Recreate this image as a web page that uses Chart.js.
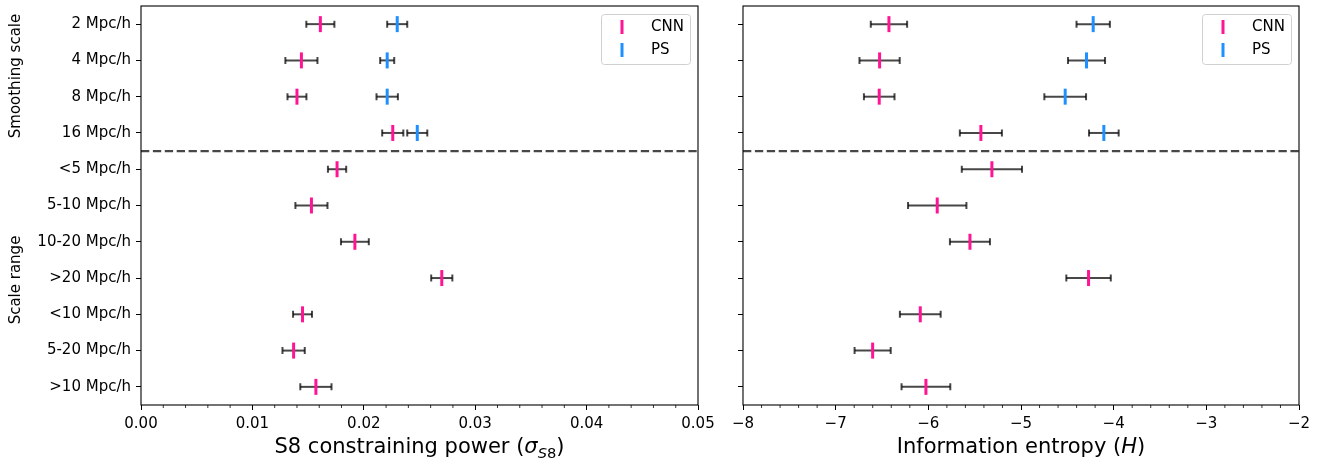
<!DOCTYPE html>
<html><head><meta charset="utf-8">
<script src="https://cdn.jsdelivr.net/npm/chart.js@4.4.1/dist/chart.umd.min.js"></script>
<style>
html,body{margin:0;padding:0;background:#fff;}
#wrap{position:relative;width:1333px;height:464px;overflow:hidden;background:#fff;}
canvas{position:absolute;top:0;}
</style></head><body>
<div id="wrap">
<canvas id="c1" width="720" height="464" style="left:0px"></canvas>
<canvas id="c2" width="613" height="464" style="left:720px"></canvas>
</div>
<script>
// ---------------- data ----------------
const categories = ['2 Mpc/h','4 Mpc/h','8 Mpc/h','16 Mpc/h','<5 Mpc/h','5-10 Mpc/h','10-20 Mpc/h','>20 Mpc/h','<10 Mpc/h','5-20 Mpc/h','>10 Mpc/h'];
const groupLabels = ['Smoothing scale','Scale range'];
const seriesNames = ['CNN','PS'];

const cnnS8    = [0.0161, 0.0144, 0.0140, 0.0226, 0.0176, 0.0153, 0.0192, 0.0270, 0.0145, 0.0137, 0.0157];
const cnnS8Err = [0.00126,0.00144,0.00085,0.00095,0.00082,0.00144,0.00125,0.00095,0.00085,0.00100,0.00140];
const psS8     = [0.0230, 0.0221, 0.0221, 0.0248];
const psS8Err  = [0.00090,0.00063,0.00096,0.00090];

const cnnH    = [-6.425,-6.526,-6.530,-5.433,-5.314,-5.904,-5.551,-4.271,-6.087,-6.601,-6.026];
const cnnHErr = [0.196, 0.217, 0.165, 0.227, 0.325, 0.315, 0.216, 0.240, 0.220, 0.195, 0.263];
const psH     = [-4.221,-4.293,-4.523,-4.106];
const psHErr  = [0.180, 0.200, 0.225, 0.160];

const s8Ticks = [0, 0.01, 0.02, 0.03, 0.04, 0.05];
const s8TickLabels = ['0.00','0.01','0.02','0.03','0.04','0.05'];
const hTicks = [-8,-7,-6,-5,-4,-3,-2];
const hTickLabels = ['\u22128','\u22127','\u22126','\u22125','\u22124','\u22123','\u22122'];
const dividerAt = 3.5;

// ---------------- style ----------------
const FONT = 'DejaVu Sans';
const PINK = '#ff1493';
const BLUE = '#1e90ff';
const ERRC = 'rgba(0,0,0,0.72)';

function drawRich(ctx, parts, cx, baseline) {
  let w = 0;
  parts.forEach(p => { ctx.font = p.f; p.w = ctx.measureText(p.t).width; w += p.w; });
  let x = cx - w / 2;
  ctx.textAlign = 'left'; ctx.textBaseline = 'alphabetic'; ctx.fillStyle = '#000';
  parts.forEach(p => { ctx.font = p.f; ctx.fillText(p.t, x, baseline + (p.dy || 0)); x += p.w; });
}

const decor = {
  id: 'decor',
  beforeDatasetsDraw(chart, args, o) {
    const ctx = chart.ctx, xs = chart.scales.x, ys = chart.scales.y, a = chart.chartArea;
    ctx.save();
    // dashed divider
    ctx.strokeStyle = 'rgba(0,0,0,0.72)'; ctx.lineWidth = 2.2; ctx.setLineDash([8.3, 3.6]);
    const yd = ys.getPixelForValue(dividerAt);
    ctx.beginPath(); ctx.moveTo(a.left, yd); ctx.lineTo(a.right, yd); ctx.stroke();
    ctx.setLineDash([]);
    // error bars
    chart.data.datasets.forEach(ds => {
      ds.data.forEach((p, i) => {
        const e = ds.err[i];
        const x0 = xs.getPixelForValue(p.x - e), x1 = xs.getPixelForValue(p.x + e), y = ys.getPixelForValue(p.y);
        ctx.strokeStyle = ERRC; ctx.lineWidth = 2;
        ctx.beginPath(); ctx.moveTo(x0, y); ctx.lineTo(x1, y); ctx.stroke();
        ctx.beginPath();
        ctx.moveTo(x0, y - 3.5); ctx.lineTo(x0, y + 3.5);
        ctx.moveTo(x1, y - 3.5); ctx.lineTo(x1, y + 3.5);
        ctx.stroke();
      });
    });
    ctx.restore();
  },
  afterDraw(chart, args, o) {
    const ctx = chart.ctx, xs = chart.scales.x, a = chart.chartArea;
    ctx.save();
    // frame
    ctx.strokeStyle = '#000'; ctx.lineWidth = 1.1;
    ctx.strokeRect(a.left, a.top, a.right - a.left, a.bottom - a.top);
    // minor ticks
    ctx.lineWidth = 0.8;
    const n = Math.round((o.xmax - o.xmin) / o.minor);
    ctx.beginPath();
    for (let i = 0; i <= n; i++) {
      if (i % 5 === 0) continue;
      const px = xs.getPixelForValue(o.xmin + i * o.minor);
      ctx.moveTo(px, a.bottom); ctx.lineTo(px, a.bottom + 3);
    }
    ctx.stroke();
    // legend
    const bw = 89, bh = 50, bx = a.right - 8 - bw, by = a.top + 8;
    ctx.fillStyle = 'rgba(255,255,255,0.8)'; ctx.strokeStyle = '#d0d0d0'; ctx.lineWidth = 1;
    ctx.beginPath();
    if (ctx.roundRect) ctx.roundRect(bx + 0.5, by + 0.5, bw, bh, 3); else ctx.rect(bx + 0.5, by + 0.5, bw, bh);
    ctx.fill(); ctx.stroke();
    const cols = [PINK, BLUE];
    seriesNames.forEach((nm, k) => {
      const cy = by + 13 + k * 23;
      ctx.strokeStyle = cols[k]; ctx.lineWidth = 3;
      ctx.beginPath(); ctx.moveTo(bx + 21, cy - 7); ctx.lineTo(bx + 21, cy + 7); ctx.stroke();
      ctx.fillStyle = '#000'; ctx.font = '15px ' + FONT; ctx.textAlign = 'left'; ctx.textBaseline = 'middle';
      ctx.fillText(nm, bx + 50, cy);
    });
    // axis title
    drawRich(ctx, o.title, (a.left + a.right) / 2, 453);
    // group labels
    if (o.groups) {
      ctx.fillStyle = '#000'; ctx.font = '15px ' + FONT; ctx.textAlign = 'center'; ctx.textBaseline = 'alphabetic';
      o.groups.forEach(g => {
        ctx.save(); ctx.translate(19.5, g.y); ctx.rotate(-Math.PI / 2);
        ctx.fillText(g.t, 0, 0); ctx.restore();
      });
    }
    ctx.restore();
  }
};

function makeChart(id, c) {
  const mk = (vals) => vals.map((v, i) => ({ x: v, y: i }));
  const pt = (col) => ({ pointStyle: 'line', rotation: 90, radius: 8, hoverRadius: 8, borderWidth: 3, hoverBorderWidth: 3,
                         borderColor: col, backgroundColor: col, pointBorderColor: col, showLine: false });
  const axisGrid = { display: true, drawOnChartArea: false, drawTicks: true, tickLength: 5, color: '#000', lineWidth: 1 };
  return new Chart(document.getElementById(id), {
    type: 'scatter',
    data: {
      datasets: [
        Object.assign({ label: seriesNames[0], data: mk(c.cnn), err: c.cnnErr }, pt(PINK)),
        Object.assign({ label: seriesNames[1], data: mk(c.ps), err: c.psErr }, pt(BLUE))
      ]
    },
    options: {
      responsive: false, animation: false, devicePixelRatio: 1,
      layout: { autoPadding: false, padding: { left: 0, top: 6, right: c.padRight, bottom: 0 } },
      plugins: { legend: { display: false }, tooltip: { enabled: false },
        decor: { title: c.title, groups: c.groups, xmin: c.xmin, xmax: c.xmax, minor: c.minor } },
      scales: {
        x: {
          type: 'linear', min: c.xmin, max: c.xmax,
          afterBuildTicks: s => { s.ticks = c.xTicks.map(v => ({ value: v })); },
          afterFit: s => { s.height = 59; },
          grid: axisGrid, border: { display: false },
          ticks: { autoSkip: false, maxRotation: 0, padding: 5, color: '#000', font: { family: FONT, size: 15 },
                   callback: (v, i) => c.xLabels[i] }
        },
        y: {
          type: 'linear', reverse: true, min: -0.5, max: categories.length - 0.5,
          afterBuildTicks: s => { s.ticks = categories.map((_, i) => ({ value: i })); },
          afterFit: s => { s.width = c.yWidth; },
          grid: axisGrid, border: { display: false },
          ticks: { autoSkip: false, padding: 5, color: '#000', font: { family: FONT, size: 15, lineHeight: 0.01 },
                   callback: (v) => c.showY ? categories[v] : '' }
        }
      }
    },
    plugins: [decor]
  });
}

makeChart('c1', {
  cnn: cnnS8, cnnErr: cnnS8Err, ps: psS8, psErr: psS8Err,
  xmin: 0, xmax: 0.05, minor: 0.002, xTicks: s8Ticks, xLabels: s8TickLabels,
  yWidth: 141, padRight: 22, showY: true,
  groups: [{ t: groupLabels[0], y: 76 }, { t: groupLabels[1], y: 280 }],
  title: [
    { t: 'S8 constraining power (', f: '21px ' + FONT },
    { t: '\u03c3', f: 'italic 21px ' + FONT },
    { t: 'S', f: 'italic 14.7px ' + FONT, dy: 4.5 },
    { t: '8', f: '14.7px ' + FONT, dy: 4.5 },
    { t: ')', f: '21px ' + FONT }
  ]
});

makeChart('c2', {
  cnn: cnnH, cnnErr: cnnHErr, ps: psH, psErr: psHErr,
  xmin: -8, xmax: -2, minor: 0.2, xTicks: hTicks, xLabels: hTickLabels,
  yWidth: 23, padRight: 34, showY: false,
  groups: null,
  title: [
    { t: 'Information entropy (', f: '21px ' + FONT },
    { t: 'H', f: 'italic 21px ' + FONT },
    { t: ')', f: '21px ' + FONT }
  ]
});
</script>
</body></html>
